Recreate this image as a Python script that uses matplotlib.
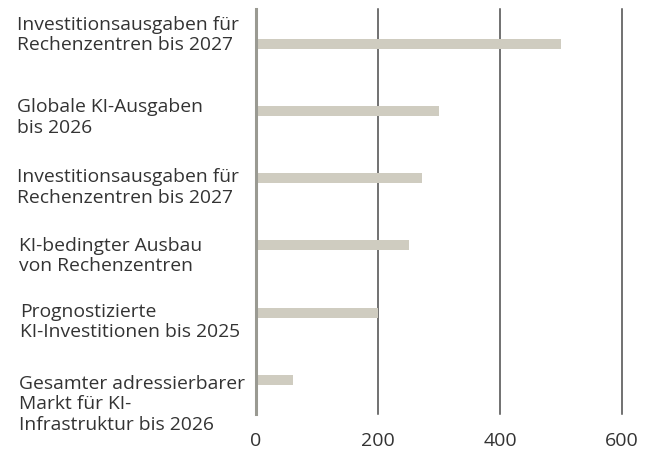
import matplotlib
matplotlib.use("Agg")
import matplotlib.pyplot as plt
from matplotlib.transforms import offset_copy

categories = [
    "Investitionsausgaben für\nRechenzentren bis 2027",
    "Globale KI-Ausgaben\nbis 2026",
    "Investitionsausgaben für\nRechenzentren bis 2027",
    "KI-bedingter Ausbau\nvon Rechenzentren",
    "Prognostizierte\nKI-Investitionen bis 2025",
    "Gesamter adressierbarer\nMarkt für KI-\nInfrastruktur bis 2026",
]
values = [500, 300, 272, 250, 200, 60]
xticks = [0, 200, 400, 600]

# per-label vertical offsets (points, positive = down)
label_dy = [-7, 4, 6, 7, 6, 17]
label_dx = [0, 0, 0, 2, 3, 2]

plt.rcParams['font.family'] = ['Open Sans', 'DejaVu Sans']

fig = plt.figure(figsize=(6.52, 4.52), dpi=100)
ax = fig.add_axes([256/652, 1-415/452, (622-256)/652, (415-10)/452])

ypos = list(range(len(values)))
ax.barh(ypos, values, height=0.15, color='#cfccc0', zorder=2)
ax.set_xlim(0, 600)
ax.set_ylim(5.51, -0.52)

for s in ax.spines.values():
    s.set_visible(False)
for x in xticks:
    if x == 0:
        ax.axvline(x, color='#9a9a92', lw=2.2, zorder=3, clip_on=False)
    else:
        ax.axvline(x, color='#4a4a4a', lw=1.1, zorder=1, clip_on=False)

ax.set_xticks(xticks)
ax.set_xticklabels([str(t) for t in xticks], fontsize=14, color='#333333')
ax.tick_params(axis='x', length=0, pad=12)
ax.set_yticks([])

for i, (lab, dy, dx) in enumerate(zip(categories, label_dy, label_dx)):
    tr = offset_copy(ax.get_yaxis_transform(), fig=fig, x=dx * 0.72, y=-dy, units='points')
    ax.text(-0.653, i, lab, transform=tr, ha='left', va='center',
            fontsize=13.9, color='#333333', linespacing=1.18)

fig.savefig("out.png", dpi=100)
